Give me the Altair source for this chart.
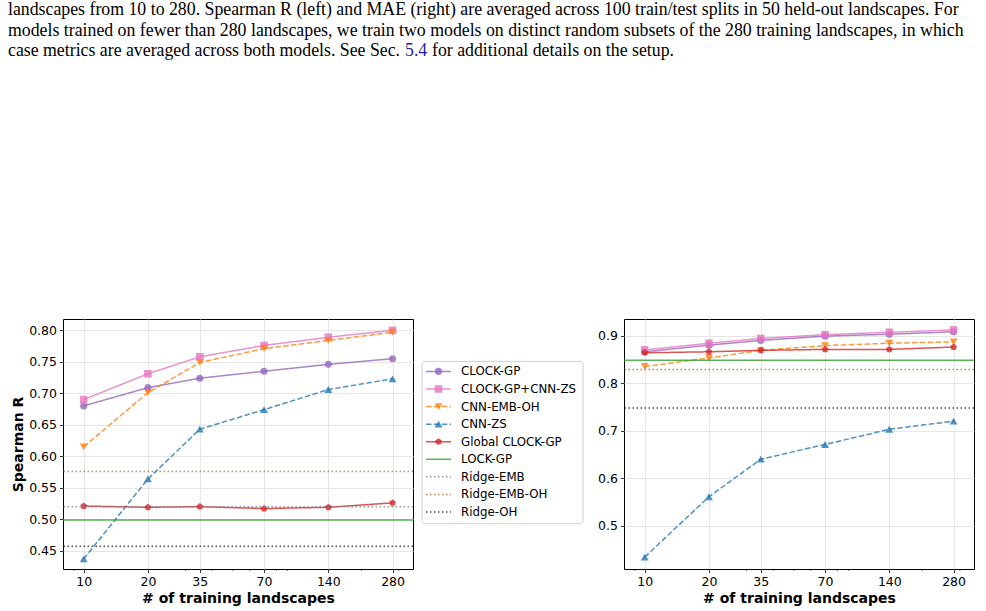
import altair as alt
import pandas as pd

# ---------------- data ----------------
x_vals = [10, 20, 35, 70, 140, 280]
minor_x = [9, 30, 40, 50, 60, 80, 90, 200, 300]

series_names = ["CLOCK-GP", "CLOCK-GP+CNN-ZS", "CNN-EMB-OH", "CNN-ZS",
                "Global CLOCK-GP", "LOCK-GP", "Ridge-EMB", "Ridge-EMB-OH", "Ridge-OH"]

# left panel: Spearman R
left_clock_gp = [0.680, 0.709, 0.724, 0.735, 0.746, 0.755]
left_clock_gp_cnn_zs = [0.690, 0.731, 0.758, 0.776, 0.789, 0.800]
left_cnn_emb_oh = [0.615, 0.701, 0.749, 0.771, 0.784, 0.797]
left_cnn_zs = [0.437, 0.564, 0.643, 0.674, 0.706, 0.723]
left_global_clock_gp = [0.521, 0.519, 0.520, 0.517, 0.519, 0.526]
left_lock_gp = 0.499
left_ridge_emb = 0.520
left_ridge_emb_oh = 0.576
left_ridge_oh = 0.457

# right panel
right_clock_gp = [0.866, 0.880, 0.890, 0.899, 0.903, 0.908]
right_clock_gp_cnn_zs = [0.870, 0.884, 0.894, 0.902, 0.907, 0.912]
right_cnn_emb_oh = [0.835, 0.853, 0.869, 0.879, 0.884, 0.887]
right_cnn_zs = [0.434, 0.561, 0.640, 0.671, 0.703, 0.720]
right_global_clock_gp = [0.864, 0.866, 0.869, 0.871, 0.871, 0.876]
right_lock_gp = 0.848
right_ridge_emb_oh = 0.829
right_ridge_oh = 0.748

left_yticks = [0.45, 0.50, 0.55, 0.60, 0.65, 0.70, 0.75, 0.80]
right_yticks = [0.5, 0.6, 0.7, 0.8, 0.9]

caption_line1 = ("landscapes from 10 to 280. Spearman R (left) and MAE (right) are averaged across "
                 "100 train/test splits in 50 held-out landscapes. For")
caption_line2 = ("models trained on fewer than 280 landscapes, we train two models on distinct random "
                 "subsets of the 280 training landscapes, in which")
caption_line3a = "case metrics are averaged across both models. See Sec."
caption_line3b = "5.4"
caption_line3c = "for additional details on the setup."

# ---------------- styles ----------------
PENTAGON = "M0,-1L0.951,-0.309L0.588,0.809L-0.588,0.809L-0.951,-0.309Z"
styles = {
    "CLOCK-GP": dict(color="#9467bd", dash=[1, 0], shape="circle", size=50),
    "CLOCK-GP+CNN-ZS": dict(color="#e377c2", dash=[1, 0], shape="square", size=58),
    "CNN-EMB-OH": dict(color="#ff7f0e", dash=[5.5, 2.4], shape="triangle-down", size=62),
    "CNN-ZS": dict(color="#1f77b4", dash=[5.5, 2.4], shape="triangle-up", size=62),
    "Global CLOCK-GP": dict(color="#d62728", dash=[1, 0], shape=PENTAGON, size=50),
    "LOCK-GP": dict(color="#2ca02c", dash=[1, 0], shape=None, size=0),
    "Ridge-EMB": dict(color="#7f7f7f", dash=[1.5, 2.5], shape=None, size=0),
    "Ridge-EMB-OH": dict(color="#b8612f", dash=[1.5, 2.5], shape=None, size=0),
    "Ridge-OH": dict(color="#222222", dash=[1.5, 2.5], shape=None, size=0),
}
ALPHA = 0.8
W, H = 350, 250


def panel(curves, hlines, ydomain, yticks, yfmt, ytitle):
    xscale = alt.Scale(type="log", domain=[8.0, 349.0], nice=False)
    xenc = alt.X("n:Q", scale=xscale,
                 axis=alt.Axis(values=x_vals, format="d", title="# of training landscapes"))
    yaxis = alt.Axis(values=yticks, format=yfmt, title=ytitle) if ytitle else \
        alt.Axis(values=yticks, format=yfmt, title=None)
    yenc = alt.Y("v:Q", scale=alt.Scale(domain=ydomain, nice=False, zero=False), axis=yaxis)
    layers = []
    for name, vals in curves:
        st = styles[name]
        df = pd.DataFrame({"n": x_vals, "v": vals})
        layers.append(alt.Chart(df).mark_line(color=st["color"], strokeDash=st["dash"],
                                              strokeWidth=1.5, opacity=ALPHA, clip=True)
                      .encode(x=xenc, y=yenc))
        layers.append(alt.Chart(df).mark_point(color=st["color"], filled=True, shape=st["shape"],
                                               size=st["size"], opacity=ALPHA, clip=True)
                      .encode(x=xenc, y=yenc))
    for name, val in hlines:
        st = styles[name]
        df = pd.DataFrame({"v": [val]})
        layers.append(alt.Chart(df).mark_rule(color=st["color"], strokeDash=st["dash"],
                                              strokeWidth=1.5, opacity=ALPHA)
                      .encode(y=yenc))
    # minor log ticks below the frame
    layers.append(alt.Chart(pd.DataFrame({"n": minor_x})).mark_rule(color="black", strokeWidth=0.6)
                  .encode(x=xenc, y=alt.value(H), y2=alt.value(H + 2)))
    return alt.layer(*layers).properties(width=W, height=H)


left = panel(
    [("CLOCK-GP", left_clock_gp), ("CLOCK-GP+CNN-ZS", left_clock_gp_cnn_zs),
     ("CNN-EMB-OH", left_cnn_emb_oh), ("CNN-ZS", left_cnn_zs),
     ("Global CLOCK-GP", left_global_clock_gp)],
    [("LOCK-GP", left_lock_gp), ("Ridge-EMB", left_ridge_emb),
     ("Ridge-EMB-OH", left_ridge_emb_oh), ("Ridge-OH", left_ridge_oh)],
    [0.421, 0.818], left_yticks, ".2f", "Spearman R")

right = panel(
    [("CLOCK-GP", right_clock_gp), ("CLOCK-GP+CNN-ZS", right_clock_gp_cnn_zs),
     ("CNN-EMB-OH", right_cnn_emb_oh), ("CNN-ZS", right_cnn_zs),
     ("Global CLOCK-GP", right_global_clock_gp)],
    [("LOCK-GP", right_lock_gp), ("Ridge-EMB-OH", right_ridge_emb_oh),
     ("Ridge-OH", right_ridge_oh)],
    [0.409, 0.935], right_yticks, ".1f", None)

# ---------------- manual legend ----------------
leg_df = pd.DataFrame({"name": series_names})
yL = alt.Y("name:N", scale=alt.Scale(type="point", domain=series_names, range=[52.4, 193.0], padding=0),
           axis=None)
leg_layers = [
    alt.Chart(pd.DataFrame({"a": [0]})).mark_rect(fill="white", stroke="#d0d0d0", strokeWidth=1,
                                                  cornerRadius=3)
    .encode(x=alt.value(0), x2=alt.value(161), y=alt.value(42.4), y2=alt.value(204.7))
]
for name in series_names:
    st = styles[name]
    sub = leg_df[leg_df["name"] == name]
    leg_layers.append(alt.Chart(sub).mark_rule(color=st["color"], strokeDash=st["dash"],
                                               strokeWidth=1.5, opacity=ALPHA)
                      .encode(x=alt.value(4), x2=alt.value(29), y=yL))
    if st["shape"]:
        leg_layers.append(alt.Chart(sub).mark_point(color=st["color"], filled=True, shape=st["shape"],
                                                    size=st["size"], opacity=ALPHA)
                          .encode(x=alt.value(16.5), y=yL))
leg_layers.append(alt.Chart(leg_df).mark_text(align="left", baseline="middle", font="DejaVu Sans",
                                              fontSize=11.8, color="black")
                  .encode(x=alt.value(39), y=yL, text="name:N"))
legend = alt.layer(*leg_layers).properties(width=193, height=H,
                                           view=alt.ViewBackground(stroke="transparent"))

# ---------------- caption ----------------
CAP_SIZE = 17.8


def cap(text, x, y, color="black"):
    return alt.Chart(pd.DataFrame({"a": [0]})).mark_text(
        align="left", baseline="alphabetic", font="Liberation Serif", fontSize=CAP_SIZE, color=color
    ).encode(x=alt.value(x), y=alt.value(y), text=alt.value(text))


caption = alt.layer(
    cap(caption_line1, -55, 13),
    cap(caption_line2, -55, 33.5),
    cap(caption_line3a, -55, 54),
    cap(caption_line3b, 342, 54, "#1f1fa0"),
    cap(caption_line3c, 369, 54),
).properties(width=W, height=60, view=alt.ViewBackground(stroke="transparent"))

row = alt.hconcat(left, legend, right, spacing=9, bounds="flush")
chart = alt.vconcat(caption, row, spacing=257, bounds="flush").properties(
    padding={"left": 7, "top": 0, "right": 0, "bottom": 0}
).configure_axis(
    labelFont="DejaVu Sans", labelFontSize=12.5, labelColor="black",
    tickColor="black", tickSize=3.5, tickWidth=0.8, domain=False,
    gridColor="#e6e6e6", gridWidth=1,
    titleFont="DejaVu Sans", titleFontWeight="bold", titleFontSize=14, titleColor="black",
    titlePadding=3, labelPadding=3,
).configure_view(stroke="black", strokeWidth=1)

chart.save("out.html", embed_options={"renderer": "svg", "actions": False})
